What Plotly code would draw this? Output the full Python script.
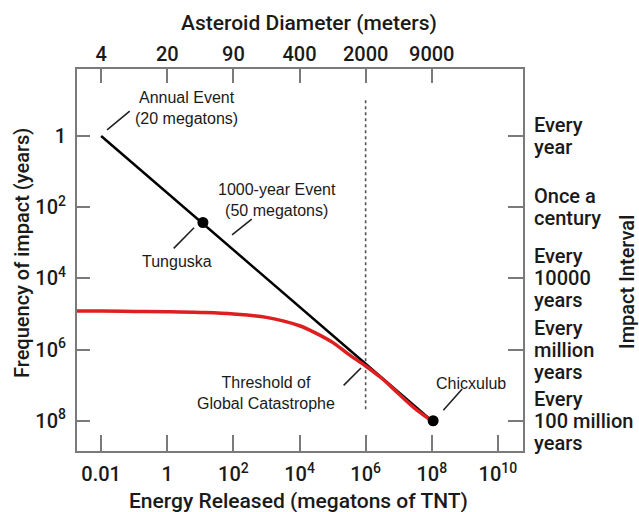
import math
import plotly.graph_objects as go

# ---- data ----
energy_ticks = [0.01, 1, 1e2, 1e4, 1e6, 1e8, 1e10]
energy_ticktext = ["0.01", "1", "10<sup>2</sup>", "10<sup>4</sup>", "10<sup>6</sup>", "10<sup>8</sup>", "10<sup>10</sup>"]
freq_ticks = [1, 1e2, 1e4, 1e6, 1e8]
freq_ticktext = ["1", "10<sup>2</sup>", "10<sup>4</sup>", "10<sup>6</sup>", "10<sup>8</sup>"]
diam_positions = [0.01, 1, 1e2, 1e4, 1e6, 1e8]
diam_labels = ["4", "20", "90", "400", "2000", "9000"]
interval_labels = [["Every", "year"], ["Once a", "century"], ["Every", "10000", "years"],
                   ["Every", "million", "years"], ["Every", "100 million", "years"]]

black_energy = [0.01, 1e8]
black_years = [1, 1e8]

red_energy = [0.0015, 0.01, 0.1, 1, 10, 100, 1e3, 1e4, 3e4, 1e5, 3e5, 1e6, 3e6, 1e7, 3e7, 1e8]
red_years = [8.3e4, 8.3e4, 8.5e4, 8.7e4, 9.1e4, 1.0e5, 1.25e5, 2.15e5, 3.4e5, 6.3e5,
             1.35e6, 2.9e6, 6.3e6, 1.75e7, 4.4e7, 1.0e8]

event_names = ["Tunguska", "Chicxulub"]
event_energy = [12, 1.1e8]
event_years = [270, 1.0e8]

threshold_energy = 1e6
threshold_years = [0.1, 5.6e7]

XR = [-2.73, 10.76]
YR = [8.85, -1.88]

FONT = "Roboto, Liberation Sans, Arial, sans-serif"
AFONT = "Liberation Sans, Arial, sans-serif"
TXT = "#1a1a1a"
AX = "#7a7a7a"
W = 500

FW, FH = 639, 512
PL, PR, PT, PB = 77, 523, 69, 451   # plot area in page pixels
PW, PH = PR - PL, PB - PT

fig = go.Figure()

fig.add_trace(go.Scatter(x=[threshold_energy, threshold_energy], y=threshold_years, mode="lines",
                         line=dict(color="#555555", width=1.6, dash="dot"), hoverinfo="skip"))
fig.add_trace(go.Scatter(x=black_energy, y=black_years, mode="lines",
                         line=dict(color="black", width=2.5), hoverinfo="skip"))
fig.add_trace(go.Scatter(x=red_energy, y=red_years, mode="lines",
                         line=dict(color="#dd1f1f", width=3.5, shape="spline", smoothing=1.0),
                         hoverinfo="skip"))
fig.add_trace(go.Scatter(x=event_energy, y=event_years, mode="markers",
                         marker=dict(color="black", size=11), text=event_names, hoverinfo="text"))
# invisible traces to activate the secondary axes
fig.add_trace(go.Scatter(x=diam_positions, y=[1] * len(diam_positions), xaxis="x2", yaxis="y",
                         mode="markers", marker=dict(opacity=0), hoverinfo="skip"))
fig.add_trace(go.Scatter(x=[1] * len(freq_ticks), y=freq_ticks, xaxis="x", yaxis="y2",
                         mode="markers", marker=dict(opacity=0), hoverinfo="skip"))

tickfont = dict(family=FONT, size=20, color=TXT, weight=W)
titlefont = dict(family=FONT, size=21, color=TXT, weight=W)
common = dict(showline=True, linecolor=AX, linewidth=2, ticks="inside", tickcolor=AX,
              tickwidth=2, showgrid=False, zeroline=False, type="log", automargin=False)

fig.update_layout(
    width=FW, height=FH,
    margin=dict(l=PL, r=FW - PR, t=PT, b=FH - PB, autoexpand=False),
    paper_bgcolor="white", plot_bgcolor="white",
    showlegend=False,
    font=dict(family=FONT, color=TXT),
    xaxis=dict(range=XR, tickvals=energy_ticks, ticktext=energy_ticktext, ticklen=16,
               tickfont=tickfont, ticklabelstandoff=4, **common),
    xaxis2=dict(range=XR, overlaying="x", side="top", tickvals=diam_positions, ticktext=diam_labels,
                ticklen=14, tickfont=tickfont, ticklabelstandoff=-2, **common),
    yaxis=dict(range=YR, tickvals=freq_ticks, ticktext=freq_ticktext, ticklen=13,
               tickfont=tickfont, ticklabelstandoff=5, **common),
    yaxis2=dict(range=YR, overlaying="y", side="right", tickvals=freq_ticks, showticklabels=False,
                ticklen=15, **common),
)

# right-hand interval labels, one text line each for tight line spacing
for v, lines in zip(freq_ticks, interval_labels):
    n = len(lines)
    for j, line in enumerate(lines):
        fig.add_annotation(x=1, y=math.log10(v), xref="paper", yref="y", text=line,
                           showarrow=False, xanchor="left", yanchor="middle", xshift=9,
                           yshift=((n - 1) / 2 - j) * 22,
                           font=dict(family=FONT, size=20, color=TXT, weight=W))

ann_font = dict(family=AFONT, size=16, color=TXT)
# text labels (positions in log10 units)
labels = [
    ("Annual Event<br>(20 megatons)", 0.57, -0.79),
    ("1000-year Event<br>(50 megatons)", 3.32, 1.80),
    ("Tunguska", 0.30, 3.54),
    ("Threshold of<br>Global Catastrophe", 2.99, 7.22),
    ("Chicxulub", 9.19, 6.94),
]
for txt, lx, ly in labels:
    fig.add_annotation(x=lx, y=ly, xref="x", yref="y", text=txt, showarrow=False,
                       font=ann_font, align="center")

# leader lines (tail -> head, log10 units)
leaders = [
    (-1.09, -0.73, -1.82, -0.17),
    (2.60, 2.30, 1.96, 2.78),
    (0.15, 3.20, 0.81, 2.58),
    (5.29, 7.05, 5.86, 6.52),
    (8.31, 7.75, 8.92, 7.11),
]
for tx, ty, hx, hy in leaders:
    fig.add_annotation(x=hx, y=hy, ax=tx, ay=ty, xref="x", yref="y", axref="x", ayref="y",
                       text="", showarrow=True, arrowhead=0, arrowwidth=1.6, arrowcolor="#222222")

# axis titles
fig.add_annotation(text="Energy Released (megatons of TNT)", xref="paper", yref="paper",
                   x=(298 - PL) / PW, y=(PB - 501) / PH, showarrow=False, font=titlefont,
                   xanchor="center", yanchor="middle")
fig.add_annotation(text="Asteroid Diameter (meters)", xref="paper", yref="paper",
                   x=(309 - PL) / PW, y=(PB - 23) / PH, showarrow=False, font=titlefont,
                   xanchor="center", yanchor="middle")
fig.add_annotation(text="Frequency of impact (years)", xref="paper", yref="paper",
                   x=(22 - PL) / PW, y=(PB - 253) / PH, textangle=-90, showarrow=False,
                   font=dict(family=FONT, size=20, color=TXT, weight=W),
                   xanchor="center", yanchor="middle")
fig.add_annotation(text="Impact Interval", xref="paper", yref="paper",
                   x=(627 - PL) / PW, y=(PB - 282) / PH, textangle=-90, showarrow=False,
                   font=dict(family=FONT, size=20, color=TXT, weight=W),
                   xanchor="center", yanchor="middle")

fig.write_html("out.html", config={"displayModeBar": False},
               post_script="document.body.style.margin='0';")
